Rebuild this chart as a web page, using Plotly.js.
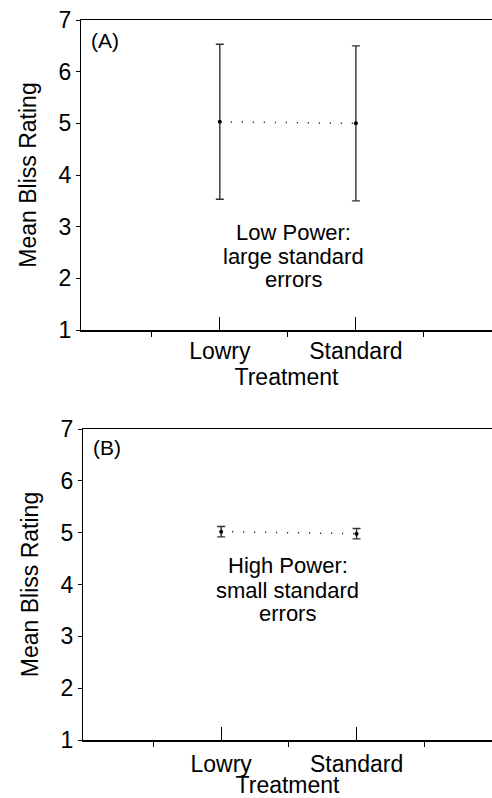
<!DOCTYPE html>
<html>
<head>
<meta charset="utf-8">
<script src="https://cdn.plot.ly/plotly-3.0.1.min.js"></script>
<style>html,body{margin:0;padding:0;background:#fff;}#chart{width:492px;height:798px;}</style>
</head>
<body>
<div id="chart"></div>
<script>
// ---- data ----
const treatments = ['Lowry', 'Standard'];
const lowPowerMeans = [5.03, 5.00];
const lowPowerSE = [1.5, 1.5];
const highPowerMeans = [5.02, 4.98];
const highPowerSE = [0.1, 0.1];
const yTicks = [1, 2, 3, 4, 5, 6, 7];
const panelLabels = ['(A)', '(B)'];
const noteA = ['Low Power:', 'large standard', 'errors'];
const noteB = ['High Power:', 'small standard', 'errors'];
const xTitle = 'Treatment';
const yTitle = 'Mean Bliss Rating';

const FONT = 'Liberation Sans, Arial, Helvetica, sans-serif';
const FS = 23;

function trace(means, se, xa, ya) {
  return {
    type: 'scatter', mode: 'lines+markers',
    x: treatments, y: means, xaxis: xa, yaxis: ya,
    line: {color: '#000', width: 1.5, dash: '1px,10px'},
    marker: {color: '#000', size: 4},
    error_y: {type: 'data', array: se, visible: true, color: '#333', thickness: 1.4, width: 4},
    showlegend: false, hoverinfo: 'skip', cliponaxis: false
  };
}

const data = [
  trace(lowPowerMeans, lowPowerSE, 'x', 'y'),
  trace(highPowerMeans, highPowerSE, 'x2', 'y2')
];

function xaxisDef(domain, anchor, labelOff, titleOff) {
  return {
    type: 'category', domain: domain, anchor: anchor,
    categoryorder: 'array', categoryarray: treatments,
    range: [-1.02, 2.0],
    showline: true, linecolor: '#000', linewidth: 1.5, mirror: true,
    showgrid: false, zeroline: false,
    tickmode: 'array', tickvals: treatments, ticktext: treatments,
    ticks: 'inside', ticklen: 13, tickwidth: 1, tickcolor: '#000',
    ticklabelstandoff: labelOff,
    minor: {tickmode: 'array', tickvals: [-0.5, 0.5, 1.5], ticks: 'outside', ticklen: 5, tickwidth: 1, tickcolor: '#000'},
    tickfont: {family: FONT, size: FS, color: '#000'},
    title: {text: xTitle, font: {family: FONT, size: FS, color: '#000'}, standoff: titleOff},
    automargin: false, fixedrange: true
  };
}
function yaxisDef(domain, anchor) {
  return {
    domain: domain, anchor: anchor, range: [1, 7],
    tickmode: 'array', tickvals: yTicks,
    showline: true, linecolor: '#000', linewidth: 1.2,
    showgrid: false, zeroline: false,
    ticks: 'outside', ticklen: 4, tickwidth: 1, tickcolor: '#000',
    tickfont: {family: FONT, size: FS, color: '#000'},
    title: {text: yTitle, font: {family: FONT, size: FS, color: '#000'}, standoff: 15},
    automargin: false, fixedrange: true
  };
}

function noteAnn(lines, xref, yref, xc, ys) {
  return lines.map((t, i) => ({
    xref: xref, yref: yref, x: xc, y: ys[i], xanchor: 'center', yanchor: 'middle',
    text: t, showarrow: false, font: {family: FONT, size: 22, color: '#000'}
  }));
}

const layout = {
  width: 492, height: 798,
  margin: {l: 81, r: 0, t: 20, b: 58},
  paper_bgcolor: '#fff', plot_bgcolor: '#fff',
  font: {family: FONT, color: '#000'},
  xaxis: xaxisDef([0, 1], 'y', 0, 0),
  yaxis: yaxisDef([0.5694, 1], 'x'),
  xaxis2: xaxisDef([0.005, 1], 'y2', 3, 2),
  yaxis2: yaxisDef([0, 0.4319], 'x2'),
  annotations: [
    {xref: 'x domain', yref: 'y domain', x: 0.02, y: 0.935, xanchor: 'left', yanchor: 'middle', text: panelLabels[0], showarrow: false, font: {family: FONT, size: 21, color: '#000'}},
    {xref: 'x2 domain', yref: 'y2 domain', x: 0.02, y: 0.94, xanchor: 'left', yanchor: 'middle', text: panelLabels[1], showarrow: false, font: {family: FONT, size: 21, color: '#000'}}
  ].concat(
    noteAnn(noteA, 'x domain', 'y', 0.516, [2.88, 2.415, 1.97]),
    noteAnn(noteB, 'x2 domain', 'y2', 0.501, [4.36, 3.894, 3.45])
  )
};

Plotly.newPlot('chart', data, layout, {displayModeBar: false, staticPlot: true});
</script>
</body>
</html>
